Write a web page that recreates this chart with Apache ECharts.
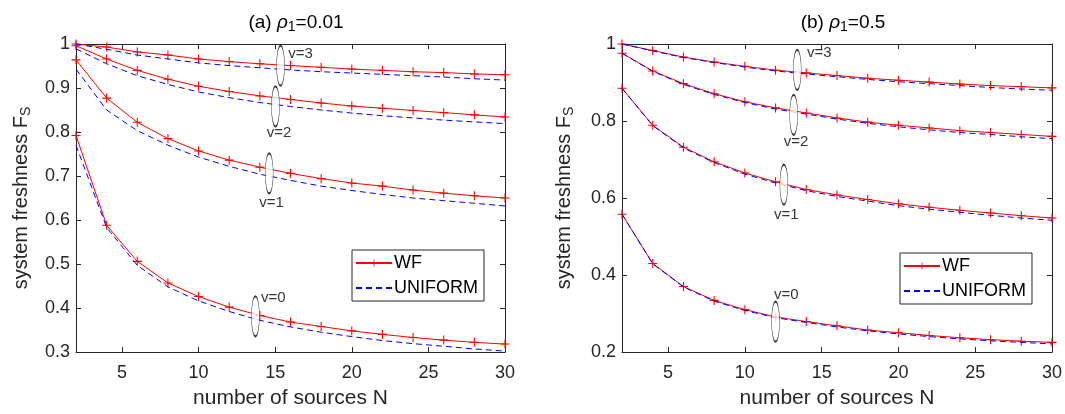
<!DOCTYPE html>
<html>
<head>
<meta charset="utf-8">
<script src="https://cdn.jsdelivr.net/npm/echarts@6/dist/echarts.min.js"></script>
<style>
html,body{margin:0;padding:0;background:#fff;}
#chart{width:1065px;height:414px;}
</style>
</head>
<body>
<div id="chart"></div>
<script>
// ---- data ----
const N = [2, 4, 6, 8, 10, 12, 14, 16, 18, 20, 22, 24, 26, 28, 30];
const xTicks = [5, 10, 15, 20, 25, 30];
const seriesNames = ['WF', 'UNIFORM'];
const vLabels = ['v=3', 'v=2', 'v=1', 'v=0'];

// (a) rho1 = 0.01
const wfA3 = [1.000, 0.993, 0.982, 0.975, 0.966, 0.960, 0.955, 0.951, 0.947, 0.943, 0.940, 0.937, 0.935, 0.932, 0.930];
const unA3 = [1.000, 0.988, 0.975, 0.966, 0.957, 0.951, 0.946, 0.941, 0.937, 0.934, 0.931, 0.928, 0.925, 0.921, 0.918];
const wfA2 = [0.996, 0.966, 0.940, 0.920, 0.904, 0.892, 0.882, 0.874, 0.866, 0.859, 0.854, 0.849, 0.844, 0.839, 0.834];
const unA2 = [0.989, 0.955, 0.928, 0.908, 0.891, 0.878, 0.867, 0.858, 0.850, 0.843, 0.837, 0.832, 0.827, 0.823, 0.819];
const wfA1 = [0.964, 0.877, 0.822, 0.785, 0.757, 0.736, 0.720, 0.706, 0.694, 0.684, 0.677, 0.668, 0.661, 0.655, 0.650];
const unA1 = [0.943, 0.850, 0.803, 0.770, 0.743, 0.722, 0.704, 0.690, 0.677, 0.667, 0.658, 0.650, 0.644, 0.638, 0.632];
const wfA0 = [0.792, 0.588, 0.506, 0.457, 0.426, 0.402, 0.383, 0.368, 0.358, 0.348, 0.340, 0.333, 0.327, 0.322, 0.318];
const unA0 = [0.770, 0.583, 0.497, 0.448, 0.416, 0.392, 0.372, 0.357, 0.345, 0.335, 0.326, 0.319, 0.313, 0.307, 0.302];

// (b) rho1 = 0.5
const wfB3 = [1.000, 0.983, 0.966, 0.953, 0.942, 0.932, 0.925, 0.918, 0.911, 0.906, 0.901, 0.896, 0.892, 0.889, 0.886];
const unB3 = [1.000, 0.982, 0.965, 0.952, 0.940, 0.930, 0.922, 0.915, 0.908, 0.902, 0.897, 0.892, 0.887, 0.883, 0.880];
const wfB2 = [0.976, 0.930, 0.897, 0.871, 0.850, 0.834, 0.821, 0.808, 0.797, 0.789, 0.782, 0.775, 0.770, 0.765, 0.760];
const unB2 = [0.976, 0.929, 0.895, 0.869, 0.848, 0.831, 0.818, 0.805, 0.794, 0.785, 0.777, 0.770, 0.765, 0.759, 0.754];
const wfB1 = [0.885, 0.789, 0.732, 0.694, 0.665, 0.642, 0.622, 0.608, 0.596, 0.585, 0.576, 0.568, 0.561, 0.554, 0.548];
const unB1 = [0.885, 0.788, 0.730, 0.692, 0.662, 0.639, 0.619, 0.604, 0.592, 0.580, 0.571, 0.563, 0.555, 0.548, 0.542];
const wfB0 = [0.558, 0.430, 0.370, 0.334, 0.310, 0.291, 0.279, 0.268, 0.257, 0.250, 0.243, 0.237, 0.232, 0.228, 0.225];
const unB0 = [0.558, 0.429, 0.369, 0.332, 0.308, 0.289, 0.277, 0.265, 0.255, 0.247, 0.240, 0.234, 0.229, 0.225, 0.221];

// annotation anchors (data coordinates): ellipses and v labels
const ellA = [[15.35, 0.951], [15.02, 0.858], [14.61, 0.706], [13.71, 0.381]];
const labA = [[16.65, 0.978], [15.26, 0.798], [14.76, 0.639], [14.87, 0.424]];
const ellB = [[13.41, 0.933], [13.18, 0.816], [12.54, 0.635], [12.00, 0.279]];
const labB = [[14.84, 0.976], [13.33, 0.746], [12.70, 0.557], [12.70, 0.348]];

// ---- styling ----
const FONT = 'Liberation Sans, Arial, Helvetica, sans-serif';
const AX = '#262626';
const plusPath = 'path://M4.4,0H5.6V4.4H10V5.6H5.6V10H4.4V5.6H0V4.4H4.4Z';

function pairs(arr) { return N.map((n, i) => [n, arr[i]]); }

function wfSeries(arr, xi, yi) {
  return {
    name: 'WF', type: 'line', xAxisIndex: xi, yAxisIndex: yi,
    data: pairs(arr), symbol: plusPath, symbolSize: 9, showSymbol: true, showAllSymbol: true,
    lineStyle: { color: '#ff0000', width: 1 }, itemStyle: { color: '#ff0000' },
    z: 3, silent: true
  };
}
function unSeries(arr, xi, yi) {
  return {
    name: 'UNIFORM', type: 'line', xAxisIndex: xi, yAxisIndex: yi,
    data: pairs(arr), symbol: 'circle', showSymbol: false,
    lineStyle: { color: '#0000ff', width: 1, type: [6, 4] }, itemStyle: { color: 'rgba(0,0,0,0)' },
    z: 4, silent: true
  };
}
function ellSeries(pts, xi, yi) {
  return {
    name: 'ell', type: 'scatter', xAxisIndex: xi, yAxisIndex: yi,
    data: pts, symbol: 'circle', symbolSize: [8, 40],
    itemStyle: { color: '#ffffff', borderColor: '#000000', borderWidth: 1 },
    z: 6, silent: true
  };
}
function labSeries(pts, xi, yi) {
  return {
    name: 'lab', type: 'scatter', xAxisIndex: xi, yAxisIndex: yi,
    data: pts.map((p, i) => ({ name: vLabels[i], value: p })),
    symbolSize: 0,
    label: { show: true, position: 'inside', formatter: p => p.name, color: '#000', fontSize: 15, fontFamily: FONT },
    z: 7, silent: true
  };
}

function xMain(gi) {
  return {
    type: 'value', gridIndex: gi, position: 'bottom', min: 2, max: 30,
    name: 'number of sources N', nameLocation: 'middle', nameGap: 36,
    nameTextStyle: { fontSize: 21, color: AX, fontFamily: FONT },
    axisLine: { show: true, onZero: false, lineStyle: { color: AX, width: 1 } },
    axisTick: { show: true, inside: true, length: 5, customValues: xTicks, lineStyle: { color: AX } },
    axisLabel: { show: true, customValues: xTicks, margin: 12, fontSize: 18, color: AX, fontFamily: FONT },
    splitLine: { show: false }
  };
}
function xTop(gi) {
  return {
    type: 'value', gridIndex: gi, position: 'top', min: 2, max: 30,
    axisLine: { show: true, onZero: false, lineStyle: { color: AX, width: 1 } },
    axisTick: { show: true, inside: true, length: 5, customValues: xTicks, lineStyle: { color: AX } },
    axisLabel: { show: false }, splitLine: { show: false }
  };
}
function yMain(gi, mn, iv, gap) {
  return {
    type: 'value', gridIndex: gi, position: 'left', min: mn, max: 1, interval: iv,
    name: 'system freshness F{s|S}', nameLocation: 'middle', nameGap: gap,
    nameTextStyle: { fontSize: 20, color: AX, fontFamily: FONT,
      rich: { s: { fontSize: 14, color: AX, fontFamily: FONT, padding: [10, 0, 0, 0] } } },
    axisLine: { show: true, onZero: false, lineStyle: { color: AX, width: 1 } },
    axisTick: { show: true, inside: true, length: 5, lineStyle: { color: AX } },
    axisLabel: { show: true, margin: 6, fontSize: 18, color: AX, fontFamily: FONT },
    splitLine: { show: false }
  };
}
function yRight(gi, mn, iv) {
  return {
    type: 'value', gridIndex: gi, position: 'right', min: mn, max: 1, interval: iv,
    axisLine: { show: true, onZero: false, lineStyle: { color: AX, width: 1 } },
    axisTick: { show: true, inside: true, length: 5, lineStyle: { color: AX } },
    axisLabel: { show: false }, splitLine: { show: false }
  };
}
function titleObj(txt, cx) {
  return {
    text: txt, left: cx, top: 6, textAlign: 'center',
    textStyle: { fontSize: 19, fontWeight: 'normal', color: '#000', fontFamily: FONT,
      rich: {
        i: { fontSize: 19, fontStyle: 'italic', color: '#000', fontFamily: FONT },
        s: { fontSize: 14, color: '#000', fontFamily: FONT, padding: [9, 0, 0, 0] }
      } }
  };
}
function legendObj(l, t) {
  return {
    left: l, top: t, orient: 'vertical', data: seriesNames, selectedMode: false,
    backgroundColor: '#ffffff', borderColor: AX, borderWidth: 1, borderRadius: 0,
    padding: [4, 6, 4, 3], itemWidth: 36, itemHeight: 9, itemGap: 7,
    textStyle: { fontSize: 18, color: '#000', fontFamily: FONT, padding: [0, 0, 0, -3] }
  };
}

const option = {
  animation: false,
  backgroundColor: '#ffffff',
  title: [titleObj('(a) {i|ρ}{s|1}=0.01', 291), titleObj('(b) {i|ρ}{s|1}=0.5', 838)],
  legend: [legendObj(352, 250), legendObj(900, 253)],
  grid: [
    { left: 76, top: 44, width: 429, height: 311 },
    { left: 622, top: 44, width: 432, height: 312 }
  ],
  xAxis: [xMain(0), xTop(0), xMain(1), xTop(1)],
  yAxis: [yMain(0, 0.3, 0.1, 43), yRight(0, 0.3, 0.1), yMain(1, 0.2, 0.2, 46), yRight(1, 0.2, 0.2)],
  series: [
    wfSeries(wfA3, 0, 0), unSeries(unA3, 0, 0),
    wfSeries(wfA2, 0, 0), unSeries(unA2, 0, 0),
    wfSeries(wfA1, 0, 0), unSeries(unA1, 0, 0),
    wfSeries(wfA0, 0, 0), unSeries(unA0, 0, 0),
    wfSeries(wfB3, 2, 2), unSeries(unB3, 2, 2),
    wfSeries(wfB2, 2, 2), unSeries(unB2, 2, 2),
    wfSeries(wfB1, 2, 2), unSeries(unB1, 2, 2),
    wfSeries(wfB0, 2, 2), unSeries(unB0, 2, 2),
    ellSeries(ellA, 0, 0), labSeries(labA, 0, 0),
    ellSeries(ellB, 2, 2), labSeries(labB, 2, 2)
  ]
};

const chart = echarts.init(document.getElementById('chart'), null, { renderer: 'canvas' });
chart.setOption(option);
</script>
</body>
</html>
